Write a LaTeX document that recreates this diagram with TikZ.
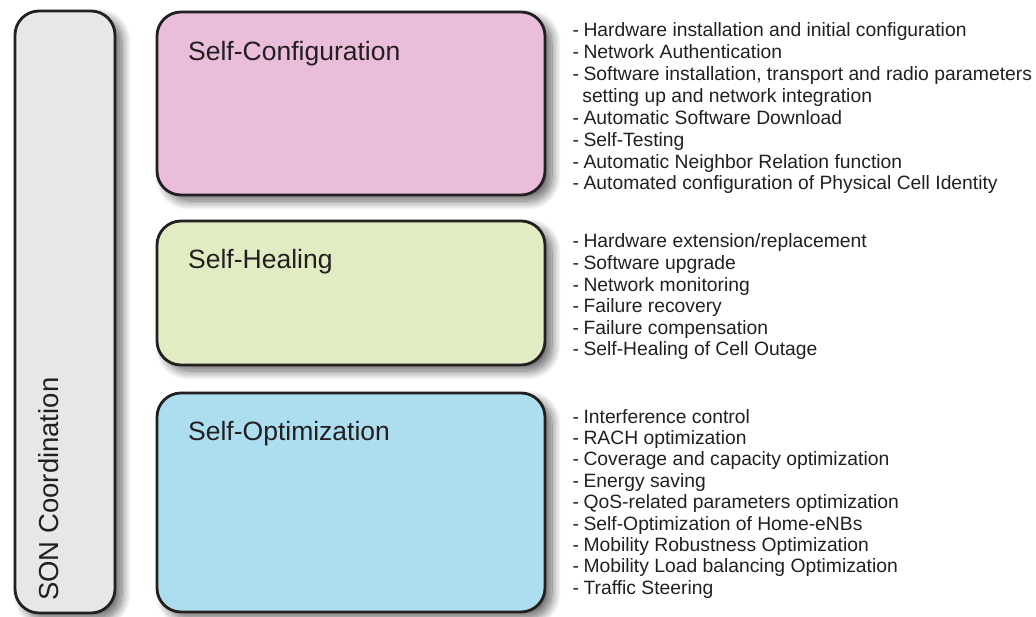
\documentclass[tikz,border=0pt]{standalone}
\usepackage{fontspec}
\setmainfont{Liberation Sans}
\usetikzlibrary{shadows.blur}

\definecolor{inkline}{HTML}{231F20}
\definecolor{coordgray}{HTML}{E6E7E8}
\definecolor{cfgpink}{HTML}{EABEDA}
\definecolor{healgreen}{HTML}{E1ECC3}
\definecolor{optblue}{HTML}{ACDEF0}

\newcommand{\itm}[1]{-\hspace{0.23em}#1}
\newcommand{\cont}[1]{\hspace{0.5em}#1}

\begin{document}
\begin{tikzpicture}[x=1pt,y=-1pt,
  panel/.style={draw=inkline,line width=2.8pt,rounded corners=24pt,
    blur shadow={shadow xshift=7pt,shadow yshift=-6pt,shadow blur radius=9pt,
      shadow blur steps=14,shadow opacity=60}},
  title/.style={anchor=base west,inner sep=0pt,text=inkline,
    font=\fontsize{26.5}{30}\selectfont},
  entry/.style={anchor=base west,inner sep=0pt,text=inkline,
    font=\fontsize{19.3}{21.6}\selectfont}]
\useasboundingbox (0,0) rectangle (1036,617);

% coordination column
\draw[panel,fill=coordgray] (15,11) rectangle (115,613);
\node[anchor=base west,inner sep=0pt,rotate=90,text=inkline,
  font=\fontsize{27.5}{30}\selectfont] (son) at (58,601) {SON Coordination};

% function panels
\draw[panel,fill=cfgpink]   (157,12)  rectangle (545,195);
\draw[panel,fill=healgreen] (157,221) rectangle (545,365);
\draw[panel,fill=optblue]   (157,393) rectangle (545,612);

\node[title] (tcfg)  at (188,61)  {Self-Configuration};
\node[title] (theal) at (188,269) {Self-Healing};
\node[title] (topt)  at (188,440) {Self-Optimization};

% self-configuration tasks
\foreach \t [count=\i] in {
  \itm{Hardware installation and initial configuration},
  \itm{Network Authentication},
  {\itm{Software installation, transport and radio parameters}},
  \cont{setting up and network integration},
  \itm{Automatic Software Download},
  \itm{Self-Testing},
  \itm{Automatic Neighbor Relation function},
  \itm{Automated configuration of Physical Cell Identity}}
  \node[entry] (cfg\i) at (572.5,{37+21.85*(\i-1)}) {\t};

% self-healing tasks
\foreach \t [count=\i] in {
  \itm{Hardware extension/replacement},
  \itm{Software upgrade},
  \itm{Network monitoring},
  \itm{Failure recovery},
  \itm{Failure compensation},
  \itm{Self-Healing of Cell Outage}}
  \node[entry] (heal\i) at (572.5,{248+21.6*(\i-1)}) {\t};

% self-optimization tasks
\foreach \t [count=\i] in {
  \itm{Interference control},
  \itm{RACH optimization},
  \itm{Coverage and capacity optimization},
  \itm{Energy saving},
  \itm{QoS-related parameters optimization},
  \itm{Self-Optimization of Home-eNBs},
  \itm{Mobility Robustness Optimization},
  \itm{Mobility Load balancing Optimization},
  \itm{Traffic Steering}}
  \node[entry] (opt\i) at (572.5,{423+21.4*(\i-1)}) {\t};
\end{tikzpicture}
\end{document}
